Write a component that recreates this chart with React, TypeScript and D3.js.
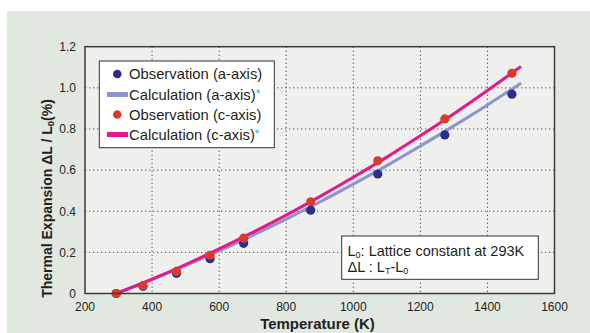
import React from "react";
import * as d3 from "d3";

const obsTemps = [293, 373, 473, 573, 673, 873, 1073, 1273, 1473];
const obsA = [0, 0.035, 0.098, 0.169, 0.244, 0.405, 0.581, 0.771, 0.969];
const obsC = [0, 0.038, 0.108, 0.186, 0.269, 0.446, 0.645, 0.849, 1.071];
const calcTemps = [293, 400, 500, 600, 700, 800, 900, 1000, 1100, 1200, 1300, 1400, 1500];
const calcA = [0, 0.068, 0.136, 0.207, 0.283, 0.362, 0.445, 0.532, 0.622, 0.717, 0.815, 0.917, 1.023];
const calcC = [0, 0.07, 0.141, 0.217, 0.297, 0.381, 0.471, 0.565, 0.663, 0.767, 0.874, 0.987, 1.104];
const xTicks = [200, 400, 600, 800, 1000, 1200, 1400, 1600];
const yTicks = [0, 0.2, 0.4, 0.6, 0.8, 1.0, 1.2];
const yTickLabels = ["0", "0.2", "0.4", "0.6", "0.8", "1.0", "1.2"];

const W = 590;
const H = 333;
const L = 85, R = 554.5, T = 46.7, B = 293.5;
const FONT = "'Liberation Sans', Arial, Helvetica, sans-serif";
const TEXT = "#231f20";
const BLUE_PT = "#2b2e8c";
const RED_PT = "#dc3b2b";
const BLUE_LN = "#8a95cf";
const PINK_LN = "#e5188a";
const CYAN = "#29a9e0";

export default function App() {
  const x = d3.scaleLinear().domain([200, 1600]).range([L, R]);
  const y = d3.scaleLinear().domain([0, 1.2]).range([B, T]);
  const line = d3
    .line<[number, number]>()
    .x((d) => x(d[0]))
    .y((d) => y(d[1]))
    .curve(d3.curveMonotoneX);
  const aPath = line(calcTemps.map((t, i) => [t, calcA[i]] as [number, number])) || "";
  const cPath = line(calcTemps.map((t, i) => [t, calcC[i]] as [number, number])) || "";

  const legendRows = [74, 94.5, 114.5, 134.5];

  return (
    <svg
      width={W}
      height={H}
      style={{ position: "absolute", left: 0, top: 0 }}
      fontFamily={FONT}
    >
      <rect x={0} y={0} width={W} height={H} fill="#ffffff" />
      <rect x={7} y={11} width={W - 7} height={H - 11} fill="#e1e8e0" />
      <rect x={L} y={T} width={R - L} height={B - T} fill="#efefed" />

      {/* grid */}
      {xTicks.slice(1, -1).map((t) => (
        <line
          key={"gx" + t}
          x1={x(t)}
          x2={x(t)}
          y1={T}
          y2={B}
          stroke="#555"
          strokeWidth={1}
          strokeDasharray="1.3,2.7"
        />
      ))}
      {yTicks.slice(1, -1).map((t) => (
        <line
          key={"gy" + t}
          x1={L}
          x2={R}
          y1={y(t)}
          y2={y(t)}
          stroke="#555"
          strokeWidth={1}
          strokeDasharray="1.3,2.7"
        />
      ))}

      {/* annotation box */}
      <rect x={341.7} y={236} width={196.6} height={43.3} fill="#ffffff" stroke="#333" strokeWidth={1} />
      <text x={347.5} y={256} fontSize={14.5} fill={TEXT}>
        L<tspan fontSize={9} dy={2}>0</tspan>
        <tspan dy={-2}>: Lattice constant at 293K</tspan>
      </text>
      <text x={347.5} y={272} fontSize={14.5} fill={TEXT}>
        ΔL : L<tspan fontSize={9} dy={2}>T</tspan>
        <tspan dy={-2}>-L</tspan>
        <tspan fontSize={9} dy={2}>0</tspan>
      </text>

      {/* lines */}
      <path d={aPath} fill="none" stroke={BLUE_LN} strokeWidth={3} />
      <path d={cPath} fill="none" stroke={PINK_LN} strokeWidth={3} />

      {/* points */}
      {obsTemps.map((t, i) => (
        <circle key={"a" + t} cx={x(t)} cy={y(obsA[i])} r={4.6} fill={BLUE_PT} />
      ))}
      {obsTemps.map((t, i) => (
        <circle key={"c" + t} cx={x(t)} cy={y(obsC[i])} r={4.6} fill={RED_PT} />
      ))}

      {/* frame */}
      <rect x={L} y={T} width={R - L} height={B - T} fill="none" stroke="#3a3a3a" strokeWidth={1.5} />

      {/* legend */}
      <rect x={99.3} y={61} width={175} height={86.7} fill="#ffffff" stroke="#333" strokeWidth={1} />
      <circle cx={117.3} cy={legendRows[0]} r={4.3} fill={BLUE_PT} />
      <rect x={107} y={legendRows[1] - 2.5} width={21} height={5} fill={BLUE_LN} />
      <circle cx={117.3} cy={legendRows[2]} r={4.3} fill={RED_PT} />
      <rect x={107} y={legendRows[3] - 2.5} width={21} height={5} fill={PINK_LN} />
      <text x={129} y={legendRows[0] + 5.2} fontSize={14.8} fill={TEXT}>Observation (a-axis)</text>
      <text x={129} y={legendRows[1] + 5.2} fontSize={14.8} fill={TEXT}>
        Calculation (a-axis)<tspan fill={CYAN} fontSize={12} dy={-2}>*</tspan>
      </text>
      <text x={129} y={legendRows[2] + 5.2} fontSize={14.8} fill={TEXT}>Observation (c-axis)</text>
      <text x={129} y={legendRows[3] + 5.2} fontSize={14.8} fill={TEXT}>
        Calculation (c-axis)<tspan fill={CYAN} fontSize={12} dy={-2}>*</tspan>
      </text>

      {/* axes labels */}
      {yTicks.map((t, i) => (
        <text
          key={"yl" + t}
          x={76}
          y={y(t) + 4.3}
          fontSize={12}
          textAnchor="end"
          fill={TEXT}
        >
          {yTickLabels[i]}
        </text>
      ))}
      {xTicks.map((t) => (
        <text
          key={"xl" + t}
          x={x(t)}
          y={310.5}
          fontSize={12}
          textAnchor="middle"
          fill={TEXT}
        >
          {t}
        </text>
      ))}
      <text x={317.5} y={329} fontSize={15} fontWeight="bold" textAnchor="middle" fill={TEXT}>
        Temperature (K)
      </text>
      <text
        transform="translate(51.5,198.5) rotate(-90)"
        fontSize={14}
        fontWeight="bold"
        textAnchor="middle"
        fill={TEXT}
      >
        Thermal Expansion ΔL / L<tspan fontSize={9.5} dy={2}>0</tspan>
        <tspan dy={-2}>(%)</tspan>
      </text>
    </svg>
  );
}
